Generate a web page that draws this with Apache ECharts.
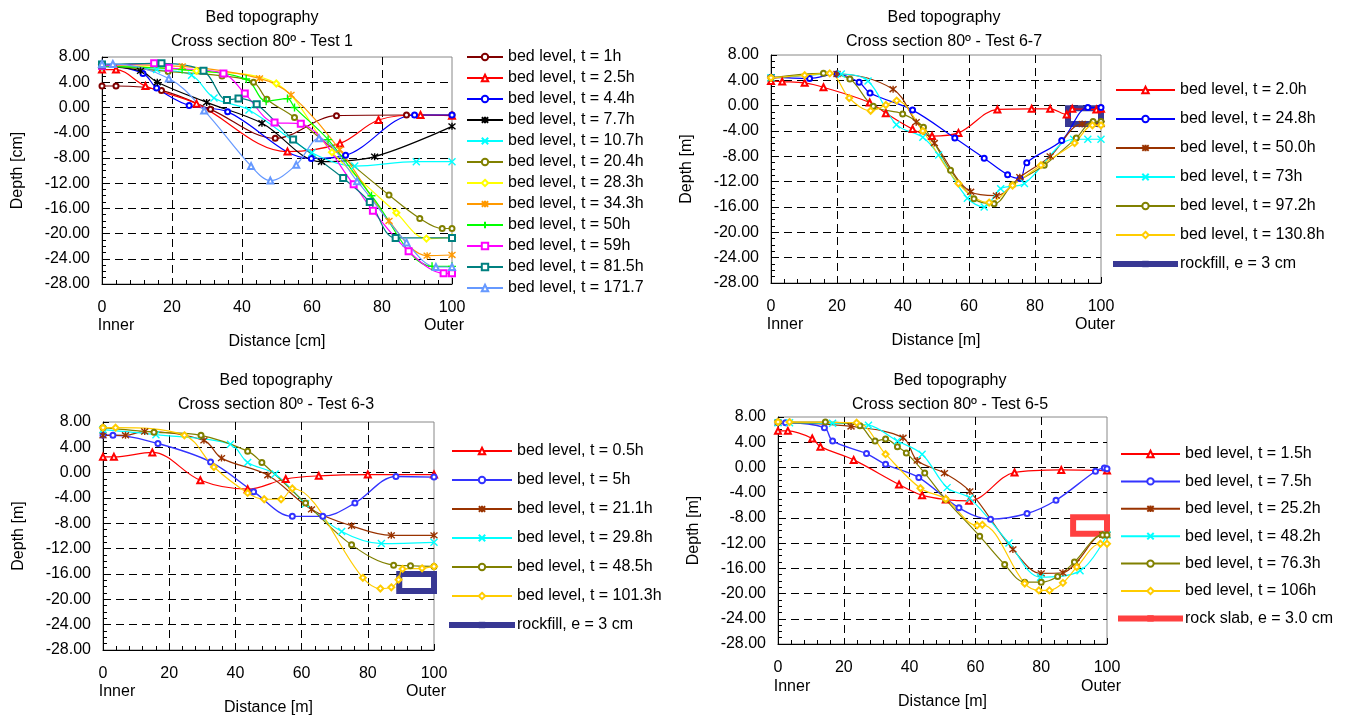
<!DOCTYPE html>
<html>
<head>
<meta charset="utf-8">
<script src="https://cdn.jsdelivr.net/npm/echarts@6/dist/echarts.min.js"></script>
<style>html,body{margin:0;padding:0;background:#fff}#c{width:1361px;height:718px}</style>
</head>
<body>
<div id="c"></div>
<script>
// ---------------- DATA ----------------
const X_TICKS = [0, 20, 40, 60, 80, 100];
const Y_TICKS = [8, 4, 0, -4, -8, -12, -16, -20, -24, -28];

// Panel 1: Test 1  [distance, depth]
const P1_NAMES = ['bed level, t = 1h','bed level, t = 2.5h','bed level, t = 4.4h','bed level, t = 7.7h','bed level, t = 10.7h','bed level, t = 20.4h','bed level, t = 28.3h','bed level, t = 34.3h','bed level, t = 50h','bed level, t = 59h','bed level, t = 81.5h','bed level, t = 171.7h'];
const P1_T1 = [[0,3.4],[4,3.4],[17,2.7],[31,-0.3],[49.5,-4.9],[67,-1.3],[87,-1.2],[100,-1.2]];
const P1_T2_5 = [[0,6.0],[4,6.0],[12.4,3.4],[27,0.6],[53,-7.0],[68,-5.7],[79,-2.0],[91,-1.2],[100,-1.3]];
const P1_T4_4 = [[0,6.9],[11.7,5.4],[15.6,3.1],[24.9,0.3],[35.9,-0.7],[59.8,-8.1],[69.6,-7.6],[89.3,-1.2],[100,-1.2]];
const P1_T7_7 = [[0,6.5],[11,5.8],[15.8,4.0],[29.9,0.8],[45.7,-2.5],[62.7,-8.6],[77.9,-7.8],[100,-3.0]];
const P1_T10_7 = [[0,6.8],[15.6,6.0],[25.6,5.1],[32,1.5],[42,-0.4],[60,-7.2],[72.2,-9.3],[89.8,-8.6],[100,-8.6]];
const P1_T20_4 = [[0,6.8],[18.9,5.7],[34.3,5.0],[43.3,4.0],[47.1,1.3],[55,-1.6],[82,-13.9],[90.8,-17.6],[97.2,-19.2],[100,-19.2]];
const P1_T28_3 = [[0,6.8],[27,5.8],[49.8,3.8],[65.7,-7.1],[84.1,-16.7],[92.7,-20.8],[100,-20.6]];
const P1_T34_3 = [[0,6.8],[22.9,6.5],[45,4.6],[54,2.0],[67.9,-6.7],[82,-18.0],[92.9,-23.5],[100,-23.4]];
const P1_T50 = [[0,6.5],[22.9,6.0],[41.2,4.5],[46.9,1.0],[53,1.4],[55,0.0],[64.6,-5.1],[77,-14.0],[94.3,-25.2],[100,-25.2]];
const P1_T59 = [[0,6.6],[14.9,7.0],[19.1,6.3],[34.7,5.4],[40.8,2.2],[49.3,-2.4],[56.8,-2.6],[71.9,-12.2],[77.4,-16.4],[87.6,-22.8],[97.6,-26.3],[100,-26.3]];
const P1_T81_5 = [[0,6.8],[17,7.0],[29,5.8],[35.7,1.2],[39,1.4],[44.2,0.5],[54.6,-5.1],[68.9,-11.2],[76.5,-15.0],[83.9,-20.7],[100,-20.7]];
const P1_T171_7 = [[0,6.9],[3.1,6.9],[19.1,4.6],[29.2,-0.5],[42.6,-9.3],[48.1,-11.6],[55.5,-9.1],[62,-4.9],[72.9,-11.7],[87,-21.4],[95.4,-25.3],[100,-25.3]];

// Panel 2: Test 6-7
const P2_NAMES = ['bed level, t = 2.0h','bed level, t = 24.8h','bed level, t = 50.0h','bed level, t = 73h','bed level, t = 97.2h','bed level, t = 130.8h','rockfill, e = 3 cm'];
const P2_T2_0 = [[0,3.9],[3.4,3.8],[10.2,3.6],[15.9,2.9],[29.9,0.5],[34.8,-1.2],[42.9,-3.7],[48.8,-4.8],[56.8,-4.3],[68.6,-0.6],[79,-0.5],[84.6,-0.5],[89.6,-1.4],[91.3,-0.5],[98.6,-0.6],[100,-0.5]];
const P2_T24_8 = [[0,4.5],[11.7,4.3],[20,5.0],[26.7,3.7],[30,2.0],[42.9,-0.7],[55.7,-5.1],[64.6,-8.3],[71.7,-10.9],[75.5,-11.5],[77.5,-9.0],[88.1,-5.5],[96,-0.3],[100,-0.3]];
const P2_T50_0 = [[0,4.3],[20,5.0],[37,2.6],[44,-2.6],[49.5,-5.9],[60.5,-13.6],[68.3,-14.2],[75.4,-11.3],[84.6,-8.0],[94.3,-2.9],[100,-2.9]];
const P2_T73 = [[0,4.4],[21.3,5.0],[29.4,3.9],[38,-3.0],[46,-5.0],[50.8,-7.8],[59.5,-14.6],[64.6,-16.0],[69.6,-13.1],[76.8,-12.3],[91.7,-5.3],[96,-5.3],[100,-5.3]];
const P2_T97_2 = [[0,4.4],[15.9,5.1],[23.9,4.2],[31,-0.1],[39.9,-1.3],[46.2,-3.4],[54.4,-10.2],[61.5,-14.7],[67.6,-15.5],[73.2,-12.5],[82.8,-9.4],[92.5,-5.1],[97.6,-2.5],[100,-2.5]];
const P2_T130_8 = [[0,4.4],[10.2,4.8],[17.8,5.1],[23.7,1.2],[30.2,-0.8],[34.8,0.1],[38.1,0.8],[46,-4.0],[56.8,-12.3],[66.1,-15.3],[73.2,-12.6],[81.8,-9.4],[92,-5.9],[97.4,-3.1],[100,-3.1]];
const P2_ROCK = [[90,-0.4],[100,-0.4],[100,-2.9],[90,-2.9],[90,-0.4]];

// Panel 3: Test 6-3
const P3_NAMES = ['bed level, t = 0.5h','bed level, t = 5h','bed level, t = 21.1h','bed level, t = 29.8h','bed level, t = 48.5h','bed level, t = 101.3h','rockfill, e = 3 cm'];
const P3_T0_5 = [[0,2.5],[3.3,2.5],[14.9,3.2],[29.4,-1.2],[43.7,-2.6],[55.2,-1.0],[65.2,-0.5],[80,-0.3],[100,-0.3]];
const P3_T5 = [[0,5.9],[3,5.9],[16.6,4.6],[32.5,1.7],[45.5,-3.0],[57.2,-6.9],[66.4,-6.9],[76.1,-4.8],[88.5,-0.6],[100,-0.7]];
const P3_T21_1 = [[0,5.9],[6.8,5.9],[12.6,6.5],[30.5,5.1],[35.8,2.3],[49.8,-0.4],[63,-5.8],[75.1,-8.4],[87.1,-9.9],[100,-9.9]];
const P3_T29_8 = [[0,6.8],[16,6.0],[38.5,4.5],[43.7,1.6],[52,-0.2],[61.2,-4.9],[72.1,-9.3],[84.1,-11.2],[100,-11.0]];
const P3_T48_5 = [[0,7.1],[15.4,6.4],[29.6,5.9],[43.7,3.4],[48,1.6],[61.2,-4.8],[75.1,-11.4],[87.8,-14.6],[92.9,-14.7],[100,-14.8]];
const P3_T101_3 = [[0,7.1],[3.8,7.1],[24.6,5.9],[33.5,0.9],[43.7,-3.2],[48.7,-4.2],[53.8,-4.2],[57.2,-2.5],[78.5,-16.6],[83.8,-18.3],[87.1,-18.1],[89.3,-16.9],[90.5,-15.2],[96.4,-15.1],[100,-14.8]];
const P3_ROCK = [[89.5,-16.0],[100,-16.0],[100,-18.7],[89.5,-18.7],[89.5,-16.0]];

// Panel 4: Test 6-5
const P4_NAMES = ['bed level, t = 1.5h','bed level, t = 7.5h','bed level, t = 25.2h','bed level, t = 48.2h','bed level, t = 76.3h','bed level, t = 106h','rock slab, e = 3.0 cm'];
const P4_T1_5 = [[0,5.8],[3,5.8],[10.4,4.6],[12.9,3.3],[23,1.2],[36.8,-2.7],[43.8,-4.4],[51,-5.1],[58.1,-5.3],[71.9,-0.8],[86.1,-0.4],[100,-0.5]];
const P4_T7_5 = [[0,7.1],[2.3,7.1],[14.1,6.3],[16.6,4.2],[26.9,2.2],[32.7,0.5],[42.8,-1.6],[55,-6.4],[64.6,-8.2],[75.7,-7.3],[84.5,-5.2],[96.5,-0.6],[99.2,-0.1],[100,-0.2]];
const P4_T25_2 = [[0,7.1],[22.2,6.5],[38,4.7],[42.3,1.1],[50.6,-0.9],[58.3,-3.8],[71.4,-13.0],[80,-16.8],[86.6,-16.7],[90.6,-15.1],[98.7,-10.7],[100,-10.7]];
const P4_T48_2 = [[0,7.1],[3.5,7.1],[16.6,7.0],[27.5,6.7],[36.3,4.2],[43.8,2.1],[51.4,-3.2],[58.3,-4.9],[70.2,-12.0],[79.8,-17.4],[91.8,-16.4],[100,-10.7]];
const P4_T76_3 = [[0,7.2],[14.4,7.2],[24.9,6.6],[29.5,4.2],[32.7,4.5],[36.3,3.3],[39,2.3],[44.6,-0.9],[51,-5.1],[61.3,-10.9],[68.9,-15.4],[75,-18.2],[80,-18.2],[85,-17.3],[90.1,-15.0],[98.7,-10.7],[100,-10.7]];
const P4_T106 = [[0,7.2],[3.5,7.2],[23.9,7.1],[32.7,2.1],[43.3,-3.3],[51,-5.0],[60.5,-9.2],[62.1,-9.1],[75,-18.4],[79.3,-19.5],[82.5,-19.5],[86.6,-18.3],[90.8,-15.8],[98,-12.1],[100,-12.1]];
const P4_ROCK = [[89.7,-7.9],[100,-7.9],[100,-10.5],[89.7,-10.5],[89.7,-7.9]];

// ---------------- STYLE ----------------
const FONT = 'Liberation Sans, Arial, sans-serif';
const SYM = {
  circle: 'emptyCircle', tri: 'emptyTriangle', square: 'emptyRect', diamond: 'emptyDiamond',
  star: 'path://M0,0L10,10M10,0L0,10M5,-1L5,11',
  x: 'path://M0,0L10,10M10,0L0,10',
  plus: 'path://M5,0L5,10M0,5L10,5'
};
const SYM_SIZE = {circle: 5, tri: 6, square: 6, diamond: 6, star: 7, x: 7, plus: 8};

function line(name, data, color, kind, g, width) {
  return {
    type: 'line', name, data, xAxisIndex: g, yAxisIndex: g,
    smooth: 0.35, symbol: SYM[kind], symbolSize: SYM_SIZE[kind],
    lineStyle: {color, width: width || 1.2},
    itemStyle: {color, borderColor: color, borderWidth: 1.4},
    emphasis: {disabled: true}, z: 3
  };
}
function rock(name, data, color, g) {
  return {
    type: 'line', name, data, xAxisIndex: g, yAxisIndex: g, clip: false,
    symbol: 'rect', showSymbol: false, smooth: false,
    lineStyle: {color, width: 6, join: 'miter', cap: 'square'},
    itemStyle: {color}, emphasis: {disabled: true}, z: 2
  };
}

const GRIDS = [
  {left: 102, top: 57, width: 350, height: 227},
  {left: 771, top: 55, width: 330, height: 228},
  {left: 103, top: 422, width: 331, height: 228},
  {left: 778, top: 417, width: 329, height: 227}
];
const UNITS = ['[cm]', '[m]', '[m]', '[m]'];

const xAxes = GRIDS.map((g, i) => ({
  type: 'value', gridIndex: i, min: X_TICKS[0], max: X_TICKS[X_TICKS.length - 1], interval: 20,
  name: 'Distance ' + UNITS[i], nameLocation: 'middle', nameGap: 50,
  nameTextStyle: {fontSize: 16, fontFamily: FONT, color: '#000'},
  axisLine: {show: true, onZero: false, lineStyle: {color: '#000', width: 1}},
  axisTick: {show: true, inside: true, length: 6, lineStyle: {color: '#000'}},
  minorTick: {show: true, splitNumber: 5, length: 4, lineStyle: {color: '#000'}},
  axisLabel: {fontSize: 16, fontFamily: FONT, color: '#000', margin: 16},
  splitLine: {show: true, showMinLine: false, showMaxLine: false, lineStyle: {color: '#000', type: [8, 5], width: 1}}
}));
const yAxes = GRIDS.map((g, i) => ({
  type: 'value', gridIndex: i, min: Y_TICKS[Y_TICKS.length - 1], max: Y_TICKS[0], interval: 4,
  name: 'Depth ' + UNITS[i], nameLocation: 'middle', nameGap: 76, nameRotate: 90,
  nameTextStyle: {fontSize: 16, fontFamily: FONT, color: '#000'},
  axisLine: {show: true, onZero: false, lineStyle: {color: '#000', width: 1}},
  axisTick: {show: true, inside: true, length: 6, lineStyle: {color: '#000'}},
  minorTick: {show: true, splitNumber: 4, length: 4, lineStyle: {color: '#000'}},
  axisLabel: {fontSize: 16, fontFamily: FONT, color: '#000', margin: 12, formatter: v => v.toFixed(2)},
  splitLine: {show: true, showMinLine: false, showMaxLine: false, lineStyle: {color: '#000', type: [8, 5], width: 1}}
}));

const series = [
  line(P1_NAMES[0], P1_T1, '#800000', 'circle', 0),
  line(P1_NAMES[1], P1_T2_5, '#FF0000', 'tri', 0),
  line(P1_NAMES[2], P1_T4_4, '#0000FF', 'circle', 0),
  line(P1_NAMES[3], P1_T7_7, '#000000', 'star', 0),
  line(P1_NAMES[4], P1_T10_7, '#00FFFF', 'x', 0),
  line(P1_NAMES[5], P1_T20_4, '#808000', 'circle', 0),
  line(P1_NAMES[6], P1_T28_3, '#FFFF00', 'diamond', 0),
  line(P1_NAMES[7], P1_T34_3, '#FF9900', 'star', 0),
  line(P1_NAMES[8], P1_T50, '#00FF00', 'plus', 0),
  line(P1_NAMES[9], P1_T59, '#FF00FF', 'square', 0),
  line(P1_NAMES[10], P1_T81_5, '#008080', 'square', 0),
  line(P1_NAMES[11], P1_T171_7, '#6699FF', 'tri', 0),

  rock(P2_NAMES[6], P2_ROCK, '#383894', 1),
  line(P2_NAMES[0], P2_T2_0, '#FF0000', 'tri', 1),
  line(P2_NAMES[1], P2_T24_8, '#0000FF', 'circle', 1),
  line(P2_NAMES[2], P2_T50_0, '#993300', 'star', 1),
  line(P2_NAMES[3], P2_T73, '#00FFFF', 'x', 1),
  line(P2_NAMES[4], P2_T97_2, '#808000', 'circle', 1),
  line(P2_NAMES[5], P2_T130_8, '#FFCC00', 'diamond', 1),

  rock(P3_NAMES[6], P3_ROCK, '#383894', 2),
  line(P3_NAMES[0], P3_T0_5, '#FF0000', 'tri', 2),
  line(P3_NAMES[1], P3_T5, '#3333FF', 'circle', 2, 1.4),
  line(P3_NAMES[2], P3_T21_1, '#993300', 'star', 2),
  line(P3_NAMES[3], P3_T29_8, '#00FFFF', 'x', 2),
  line(P3_NAMES[4], P3_T48_5, '#808000', 'circle', 2),
  line(P3_NAMES[5], P3_T101_3, '#FFCC00', 'diamond', 2),

  rock(P4_NAMES[6], P4_ROCK, '#FF4040', 3),
  line(P4_NAMES[0], P4_T1_5, '#FF0000', 'tri', 3),
  line(P4_NAMES[1], P4_T7_5, '#3333FF', 'circle', 3, 1.4),
  line(P4_NAMES[2], P4_T25_2, '#993300', 'star', 3),
  line(P4_NAMES[3], P4_T48_2, '#00FFFF', 'x', 3),
  line(P4_NAMES[4], P4_T76_3, '#808000', 'circle', 3),
  line(P4_NAMES[5], P4_T106, '#FFCC00', 'diamond', 3)
];

function legend(names, left, top, itemWidth, itemGap, extraText) {
  return {
    orient: 'vertical', left, top, itemWidth, itemHeight: 8, itemGap, padding: 0,
    selectedMode: false,
    data: names.map(n => n.indexOf('rock') === 0 ? {name: n, lineStyle: {width: 6}} : n),
    textStyle: Object.assign({fontSize: 16, fontFamily: FONT, color: '#000'}, extraText || {})
  };
}

const TEXT = (t, x, y) => ({type: 'text', x, y, silent: true,
  style: {text: t, align: 'center', verticalAlign: 'middle', textAlign: 'center', textVerticalAlign: 'middle',
          fontSize: 16, fontFamily: FONT, fill: '#000'}});

const graphic = [
  TEXT('Bed topography', 262, 18), TEXT('Cross section 80º - Test 1', 262, 42),
  TEXT('Bed topography', 944, 18), TEXT('Cross section 80º - Test 6-7', 944, 42),
  TEXT('Bed topography', 276, 381), TEXT('Cross section 80º - Test 6-3', 276, 405),
  TEXT('Bed topography', 950, 381), TEXT('Cross section 80º - Test 6-5', 950, 405),
  TEXT('Inner', 116, 326), TEXT('Outer', 444, 326),
  TEXT('Inner', 785, 325), TEXT('Outer', 1095, 325),
  TEXT('Inner', 117, 692), TEXT('Outer', 426, 692),
  TEXT('Inner', 792, 687), TEXT('Outer', 1101, 687)
];

const chart = echarts.init(document.getElementById('c'), null, {renderer: 'canvas'});
chart.setOption({
  animation: false,
  backgroundColor: '#fff',
  grid: GRIDS.map(g => Object.assign({show: true, borderColor: '#888', borderWidth: 1, backgroundColor: 'transparent'}, g)),
  xAxis: xAxes,
  yAxis: yAxes,
  legend: [
    legend(P1_NAMES, 466, 49, 36, 5, {width: 143, overflow: 'truncate', ellipsis: ''}),
    legend(P2_NAMES, 1113, 82, 59, 13),
    legend(P3_NAMES, 449, 443, 60, 13),
    legend(P4_NAMES, 1118, 446, 59, 11.4)
  ],
  graphic,
  series
});
</script>
</body>
</html>
